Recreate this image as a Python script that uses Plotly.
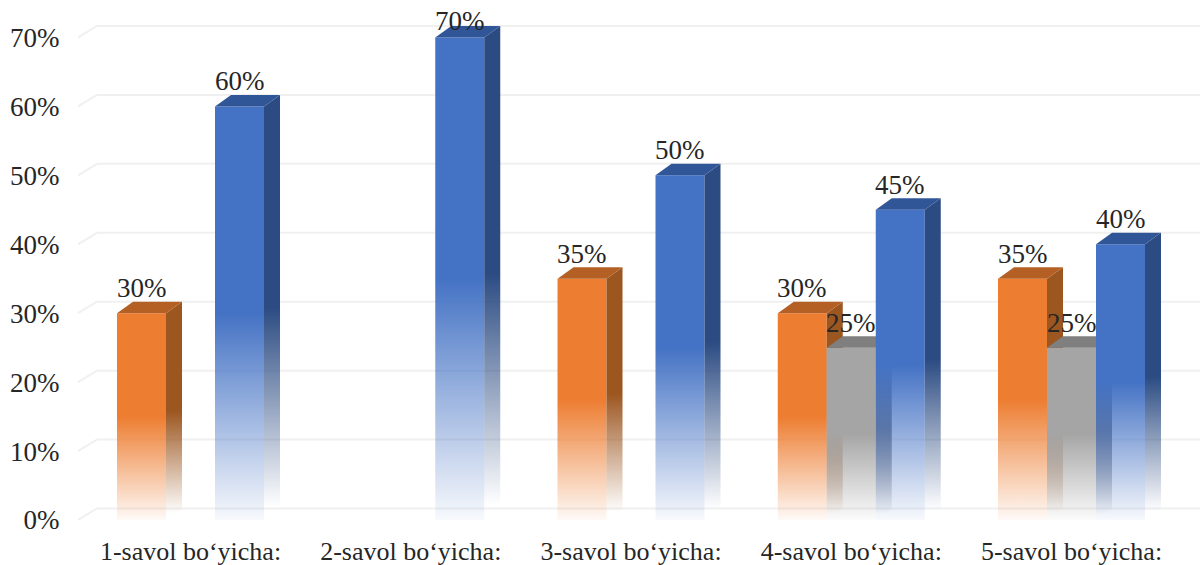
import plotly.graph_objects as go

categories = ["1-savol bo‘yicha:", "2-savol bo‘yicha:", "3-savol bo‘yicha:", "4-savol bo‘yicha:", "5-savol bo‘yicha:"]
orange_values = [30, None, 35, 30, 35]
gray_values = [None, None, None, 25, 25]
blue_values = [60, 70, 50, 45, 40]
y_ticks = [0, 10, 20, 30, 40, 50, 60, 70]

W, H = 1202, 565
PX_L, PX_R, PX_Y0 = 78.0, 1200.0, 520.0
PX_PER_CAT = 220.25
CAT0_PX = 190.5
PX_PER_PCT = 6.9
X_RANGE = [(PX_L - CAT0_PX) / PX_PER_CAT, (PX_R - CAT0_PX) / PX_PER_CAT]
Y_RANGE = [0, 75]
BAR_W = 49 / PX_PER_CAT
DX = 16 / PX_PER_CAT
DY = 11.5 / PX_PER_PCT
GRID_DX = 19 / PX_PER_CAT
GRID_DY = 11.5 / PX_PER_PCT
FONT = "Liberation Serif"
FONT_SIZE = 27
CAT_FONT_SIZE = 26
TEXT_COLOR = "#262626"

series = [
    dict(key="o", values=orange_values, slot=-1, front="237,125,49", side="156,86,32", top="180,96,36"),
    dict(key="g", values=gray_values, slot=0, front="165,165,165", side="124,124,124", top="127,127,127"),
    dict(key="b", values=blue_values, slot=1, front="68,114,196", side="43,75,130", top="49,86,152"),
]

fig = go.Figure()
annotations = []
for n, s in enumerate(series):
    sfx = "" if n == 0 else str(n + 1)
    xa, ya = "x" + sfx, "y" + sfx
    xs = [i + s["slot"] * BAR_W for i in range(len(categories))]
    fig.add_trace(go.Bar(x=xs, y=s["values"], width=BAR_W, xaxis=xa, yaxis=ya, meta="front-" + s["key"],
                         marker=dict(color=f"rgb({s['front']})", line=dict(width=0)),
                         hoverinfo="skip", showlegend=False))
    for x, v in zip(xs, s["values"]):
        if v is None:
            continue
        xr = x + BAR_W / 2
        xl = x - BAR_W / 2
        fig.add_trace(go.Scatter(x=[xr, xr + DX, xr + DX, xr, xr], y=[0, DY, v + DY, v, 0],
                                 mode="none", fill="toself", fillcolor=f"rgb({s['side']})",
                                 xaxis=xa, yaxis=ya, meta="side-" + s["key"],
                                 hoverinfo="skip", showlegend=False))
        fig.add_trace(go.Scatter(x=[xl, xr, xr + DX, xl + DX, xl], y=[v, v, v + DY, v + DY, v],
                                 mode="none", fill="toself", fillcolor=f"rgb({s['top']})",
                                 xaxis=xa, yaxis=ya,
                                 hoverinfo="skip", showlegend=False))
        annotations.append(dict(x=x, y=v, xref="x", yref="y", text=f"{v}%", showarrow=False,
                                yshift=16 if v == max(y_ticks) else 25, yanchor="middle", xanchor="center",
                                font=dict(family=FONT, size=FONT_SIZE, color=TEXT_COLOR)))

shapes = []
for t in y_ticks:
    line = dict(color="#F0F0F0", width=2)
    shapes.append(dict(type="line", xref="x", yref="y", layer="below", line=line,
                       x0=X_RANGE[0], y0=t, x1=X_RANGE[0] + GRID_DX, y1=t + GRID_DY))
    shapes.append(dict(type="line", xref="x", yref="y", layer="below", line=line,
                       x0=X_RANGE[0] + GRID_DX, y0=t + GRID_DY, x1=X_RANGE[1], y1=t + GRID_DY))

plot_h = (Y_RANGE[1] - Y_RANGE[0]) * PX_PER_PCT
layout = dict(
    width=W, height=H,
    margin=dict(l=PX_L, r=W - PX_R, t=PX_Y0 - plot_h, b=H - PX_Y0, pad=0, autoexpand=False),
    paper_bgcolor="white", plot_bgcolor="rgba(0,0,0,0)",
    barmode="overlay",
    shapes=shapes, annotations=annotations,
    xaxis=dict(range=X_RANGE, tickmode="array", tickvals=list(range(len(categories))), ticktext=categories,
               automargin=False,
               showgrid=False, zeroline=False, showline=False, ticks="outside", ticklen=8, tickcolor="rgba(0,0,0,0)",
               tickfont=dict(family=FONT, size=CAT_FONT_SIZE, color=TEXT_COLOR)),
    yaxis=dict(range=Y_RANGE, tickmode="array", tickvals=y_ticks, ticktext=[f"{t}%" for t in y_ticks],
               automargin=False,
               showgrid=False, zeroline=False, showline=False, ticks="outside", ticklen=12, tickcolor="rgba(0,0,0,0)",
               tickfont=dict(family=FONT, size=FONT_SIZE, color=TEXT_COLOR)),
)
for n in (2, 3):
    layout[f"xaxis{n}"] = dict(range=X_RANGE, overlaying="x", visible=False)
    layout[f"yaxis{n}"] = dict(range=Y_RANGE, overlaying="y", visible=False)
fig.update_layout(**layout)

colors_js = {f"front-{s['key']}": s["front"] for s in series}
colors_js.update({f"side-{s['key']}": s["side"] for s in series})
post = """
document.body.style.margin='0';
var gd=document.getElementById('{plot_id}');
var colors=%s;
var svg=gd.querySelector('svg.main-svg');
var NS='http://www.w3.org/2000/svg';
var defs=document.createElementNS(NS,'defs');
Object.keys(colors).forEach(function(k){
  var g=document.createElementNS(NS,'linearGradient');
  g.setAttribute('id','grad-'+k);
  g.setAttribute('x1','0');g.setAttribute('y1','0');g.setAttribute('x2','0');g.setAttribute('y2','1');
  var stops=k.indexOf('side')===0 ? [[0,1],[0.5,1],[0.97,0]] : [[0,1],[0.5,1],[1,0.04]];
  stops.forEach(function(p){
    var st=document.createElementNS(NS,'stop');
    st.setAttribute('offset',p[0]);
    st.setAttribute('stop-color','rgb('+colors[k]+')');
    st.setAttribute('stop-opacity',p[1]);
    g.appendChild(st);
  });
  defs.appendChild(g);
});
svg.insertBefore(defs,svg.firstChild);
gd.querySelectorAll('.trace').forEach(function(el){
  var d=el.__data__; if(!d||!d[0]||!d[0].trace) return;
  var m=d[0].trace.meta; if(!m||!colors[m]) return;
  el.querySelectorAll('.point path, path.js-fill').forEach(function(p){
    p.style.setProperty('fill','url(#grad-'+m+')');
    p.style.setProperty('fill-opacity','1');
  });
});
""" % (str(colors_js))

fig.write_html("out.html", post_script=post, config=dict(displayModeBar=False))
